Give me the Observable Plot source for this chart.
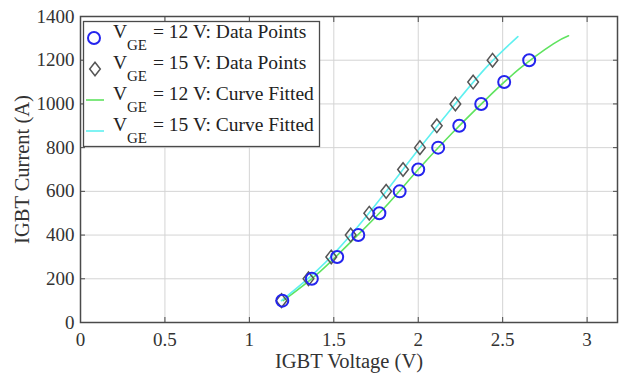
<!DOCTYPE html>
<html>
<head>
<meta charset="utf-8">
<script src="https://cdn.jsdelivr.net/npm/d3@7"></script>
<script src="https://cdn.jsdelivr.net/npm/@observablehq/plot@0.6"></script>
<style>
  html, body { margin: 0; padding: 0; background: #fff; }
  #chart { position: relative; width: 624px; height: 375px; }
  #chart svg text { font-family: "Liberation Serif", "Times New Roman", serif; }
  #legend { position: absolute; left: 0; top: 0; }
</style>
</head>
<body>
<div id="chart"></div>
<script>
// Measured collector current levels (A)
const current = [100, 200, 300, 400, 500, 600, 700, 800, 900, 1000, 1100, 1200];
// Measured collector-emitter voltage (V) at each current level
const voltage12 = [1.195, 1.37, 1.52, 1.645, 1.77, 1.89, 2.0, 2.118, 2.243, 2.373, 2.509, 2.657];
const voltage15 = [1.19, 1.35, 1.485, 1.60, 1.71, 1.81, 1.91, 2.01, 2.11, 2.22, 2.325, 2.44];

// Fitted curves, sampled
const fitV12 = [1.2, 1.4, 1.6, 1.8, 2.0, 2.2, 2.4, 2.6, 2.8, 2.89];
const fitI12 = [100, 220, 368, 525, 700, 866, 1020, 1161, 1275, 1312];
const fitV15 = [1.19, 1.4, 1.6, 1.8, 2.0, 2.2, 2.4, 2.59];
const fitI15 = [100, 237, 400, 590, 790, 982, 1165, 1308];

// Axis ticks
const xTicks = [0, 0.5, 1, 1.5, 2, 2.5, 3];
const yTicks = [0, 200, 400, 600, 800, 1000, 1200, 1400];

const pts12 = current.map((i, k) => ({v: voltage12[k], i}));
const pts15 = current.map((i, k) => ({v: voltage15[k], i}));
const fit12 = fitV12.map((v, k) => ({v, i: fitI12[k]}));
const fit15 = fitV15.map((v, k) => ({v, i: fitI15[k]}));

const green = "#5fe35f";
const cyan = "#5ff0f0";
const blue = "#2424ee";
const gray = "#555";
const frameColor = "#4a4a4a";
const textColor = "#333";

// Slightly tall diamond marker
const tallDiamond = {
  draw(context, size) {
    const r = Math.sqrt(size / Math.PI);
    context.moveTo(0, -r * 1.1);
    context.lineTo(r * 0.86, 0);
    context.lineTo(0, r * 1.1);
    context.lineTo(-r * 0.86, 0);
    context.closePath();
  }
};

const chart = Plot.plot({
  width: 624,
  height: 375,
  marginLeft: 80,
  marginRight: 7,
  marginTop: 16,
  marginBottom: 53,
  style: "font-family: 'Liberation Serif', serif; font-size: 19px; background: #fff; color: #333;",
  x: {domain: [0, 3.18], label: null},
  y: {domain: [0, 1400], label: null},
  marks: [
    Plot.gridX(xTicks, {stroke: "#d4d4d4", strokeOpacity: 1, strokeWidth: 1}),
    Plot.gridY(yTicks, {stroke: "#d4d4d4", strokeOpacity: 1, strokeWidth: 1}),
    // tick labels
    Plot.axisX(xTicks, {anchor: "bottom", tickSize: 0, tickPadding: 10, fontSize: 19, fill: textColor, tickFormat: d => String(d)}),
    Plot.axisY(yTicks, {anchor: "left", tickSize: 0, tickPadding: 6, fontSize: 19, fill: textColor, tickFormat: d => String(d)}),
    // inward tick marks on all four sides
    Plot.axisX(xTicks, {anchor: "bottom", tickSize: 5, dy: -5, text: null, stroke: frameColor}),
    Plot.axisX(xTicks, {anchor: "top", tickSize: 5, dy: 5, text: null, stroke: frameColor}),
    Plot.axisY(yTicks, {anchor: "left", tickSize: 5, dx: 5, text: null, stroke: frameColor}),
    Plot.axisY(yTicks, {anchor: "right", tickSize: 5, dx: -5, text: null, stroke: frameColor}),
    Plot.frame({stroke: frameColor, strokeWidth: 1.5}),
    // fitted curves
    Plot.line(fit12, {x: "v", y: "i", stroke: green, strokeWidth: 1.6, curve: "natural"}),
    Plot.line(fit15, {x: "v", y: "i", stroke: cyan, strokeWidth: 1.6, curve: "natural"}),
    // measured points
    Plot.dot(pts15, {x: "v", y: "i", symbol: tallDiamond, r: 6.2, stroke: gray, strokeWidth: 1.5, fill: "none"}),
    Plot.dot(pts12, {x: "v", y: "i", symbol: "circle", r: 6, stroke: blue, strokeWidth: 2, fill: "none"}),
    // axis titles
    Plot.text(["IGBT Voltage (V)"], {frameAnchor: "bottom", lineAnchor: "middle", textAnchor: "middle", dy: 39, fontSize: 20.5, fill: textColor, text: d => d}),
    Plot.text(["IGBT Current (A)"], {frameAnchor: "left", lineAnchor: "middle", textAnchor: "middle", dx: -58, rotate: -90, fontSize: 20.5, fill: textColor, text: d => d})
  ]
});

const root = document.getElementById("chart");
root.appendChild(chart);

// Legend box over the upper-left corner of the plot area
const legendItems = [
  {kind: "circle", color: blue, label: "= 12 V: Data Points"},
  {kind: "diamond", color: gray, label: "= 15 V: Data Points"},
  {kind: "line", color: green, label: "= 12 V: Curve Fitted"},
  {kind: "line", color: cyan, label: "= 15 V: Curve Fitted"}
];
const leg = d3.select(root).append("svg")
  .attr("id", "legend")
  .attr("width", 624).attr("height", 375)
  .style("pointer-events", "none");
leg.append("rect")
  .attr("x", 83.5).attr("y", 21.5).attr("width", 236).attr("height", 125)
  .attr("fill", "#fff").attr("stroke", frameColor).attr("stroke-width", 1.3);
legendItems.forEach((item, k) => {
  const cy = 38 + k * 31;
  const g = leg.append("g").attr("font-family", "'Liberation Serif', serif").attr("fill", "#222");
  if (item.kind === "circle") {
    g.append("circle").attr("cx", 94).attr("cy", cy).attr("r", 6)
      .attr("fill", "none").attr("stroke", item.color).attr("stroke-width", 2);
  } else if (item.kind === "diamond") {
    g.append("path").attr("d", `M95,${cy - 6.8}L100.3,${cy}L95,${cy + 6.8}L89.7,${cy}Z`)
      .attr("fill", "none").attr("stroke", item.color).attr("stroke-width", 1.5);
  } else {
    g.append("line").attr("x1", 86).attr("x2", 104).attr("y1", cy).attr("y2", cy)
      .attr("stroke", item.color).attr("stroke-width", 1.6);
  }
  g.append("text").attr("x", 113).attr("y", cy).attr("font-size", 19.5).text("V");
  g.append("text").attr("x", 127).attr("y", cy + 12).attr("font-size", 15).text("GE");
  g.append("text").attr("x", 153).attr("y", cy).attr("font-size", 19.5).text(item.label);
});
</script>
</body>
</html>
